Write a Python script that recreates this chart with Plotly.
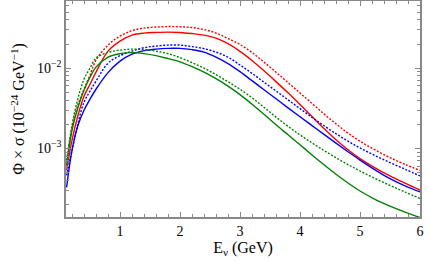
import plotly.graph_objects as go

energy = [0.11, 0.2, 0.3, 0.4, 0.5, 0.6, 0.8, 1.0, 1.2, 1.4, 1.6, 1.8, 2.0, 2.2, 2.4, 2.6,
          2.8, 3.0, 3.2, 3.4, 3.6, 3.8, 4.0, 4.2, 4.4, 4.6, 4.8, 5.0, 5.25, 5.5, 5.75, 6.0]

red_solid = [5.31e-4, 1.259e-3, 2.585e-3, 4.47e-3, 6.31e-3, 8.91e-3, 1.631e-2, 2.175e-2,
             2.585e-2, 2.738e-2, 2.79e-2, 2.818e-2, 2.79e-2, 2.70e-2, 2.585e-2, 2.371e-2,
             2.018e-2, 1.622e-2, 1.245e-2, 9.27e-3, 6.79e-3, 4.92e-3, 3.52e-3, 2.495e-3,
             1.766e-3, 1.279e-3, 9.59e-4, 7.45e-4, 5.71e-4, 4.54e-4, 3.69e-4, 3.02e-4]

red_dotted = [6.13e-4, 1.778e-3, 3.55e-3, 5.46e-3, 8.18e-3, 1.259e-2, 1.939e-2, 2.512e-2,
              2.94e-2, 3.162e-2, 3.255e-2, 3.30e-2, 3.28e-2, 3.21e-2, 3.03e-2, 2.74e-2,
              2.34e-2, 1.97e-2, 1.567e-2, 1.189e-2, 8.91e-3, 6.61e-3, 4.90e-3, 3.63e-3,
              2.69e-3, 2.018e-3, 1.549e-3, 1.230e-3, 9.55e-4, 7.67e-4, 6.31e-4, 5.31e-4]

blue_solid = [3.26e-4, 9.44e-4, 1.939e-3, 2.985e-3, 4.10e-3, 5.46e-3, 8.79e-3, 1.223e-2,
              1.496e-2, 1.655e-2, 1.728e-2, 1.763e-2, 1.763e-2, 1.70e-2, 1.585e-2, 1.372e-2,
              1.138e-2, 9.04e-3, 6.98e-3, 5.38e-3, 4.15e-3, 3.20e-3, 2.477e-3, 1.923e-3,
              1.493e-3, 1.161e-3, 9.08e-4, 7.14e-4, 5.40e-4, 4.19e-4, 3.40e-4, 2.858e-4]

blue_dotted = [4.60e-4, 9.44e-4, 2.05e-3, 3.76e-3, 5.16e-3, 6.88e-3, 1.155e-2, 1.432e-2,
               1.631e-2, 1.80e-2, 1.884e-2, 1.939e-2, 1.939e-2, 1.856e-2, 1.753e-2, 1.585e-2,
               1.372e-2, 1.096e-2, 8.61e-3, 6.68e-3, 5.19e-3, 4.03e-3, 3.126e-3, 2.438e-3,
               1.914e-3, 1.521e-3, 1.230e-3, 1.012e-3, 8.13e-4, 6.65e-4, 5.50e-4, 4.53e-4]

green_solid = [6.13e-4, 1.679e-3, 3.25e-3, 5.31e-3, 7.72e-3, 1.029e-2, 1.372e-2, 1.518e-2,
               1.563e-2, 1.518e-2, 1.432e-2, 1.315e-2, 1.199e-2, 1.044e-2, 8.91e-3, 7.39e-3,
               5.96e-3, 4.67e-3, 3.55e-3, 2.66e-3, 1.967e-3, 1.475e-3, 1.107e-3, 8.28e-4,
               6.24e-4, 4.76e-4, 3.70e-4, 2.94e-4, 2.317e-4, 1.905e-4, 1.603e-4, 1.374e-4]

green_dotted = [7.08e-4, 1.939e-3, 4.22e-3, 7.29e-3, 1.0e-2, 1.334e-2, 1.57e-2, 1.679e-2,
                1.728e-2, 1.70e-2, 1.631e-2, 1.518e-2, 1.352e-2, 1.172e-2, 1.0e-2, 8.29e-3,
                6.78e-3, 5.46e-3, 4.28e-3, 3.25e-3, 2.455e-3, 1.884e-3, 1.472e-3, 1.169e-3,
                9.40e-4, 7.64e-4, 6.28e-4, 5.22e-4, 4.22e-4, 3.45e-4, 2.851e-4, 2.371e-4]

x_tick_vals = [1, 2, 3, 4, 5, 6]
x_tick_text = ["1", "2", "3", "4", "5", "6"]
y_tick_vals = [1e-3, 1e-2]
y_tick_text = ["10<sup>−3</sup>", "10<sup>−2</sup>"]
y_minor_vals = [2e-4, 3e-4, 4e-4, 5e-4, 6e-4, 7e-4, 8e-4, 9e-4,
                2e-3, 3e-3, 4e-3, 5e-3, 6e-3, 7e-3, 8e-3, 9e-3,
                2e-2, 3e-2, 4e-2, 5e-2, 6e-2]

series = [
    (red_solid, "#ff0000", "solid"),
    (red_dotted, "#ff0000", "2px,1.6px"),
    (blue_solid, "#0000ff", "solid"),
    (blue_dotted, "#0000ff", "2px,1.6px"),
    (green_solid, "#008000", "solid"),
    (green_dotted, "#008000", "2px,1.6px"),
]

fig = go.Figure()
for vals, col, dash in series:
    fig.add_trace(go.Scatter(x=energy, y=vals, mode="lines", line_shape="spline",
                             line=dict(color=col, width=1.4, dash=dash),
                             showlegend=False, hoverinfo="skip"))

font = "Liberation Serif"
axis_col = "#888888"
fig.update_layout(
    width=429, height=263,
    margin=dict(l=66, r=9, t=1, b=46, autoexpand=False),
    paper_bgcolor="white", plot_bgcolor="white",
    font=dict(family=font, size=14, color="black"),
    xaxis=dict(
        range=[0.1, 6.0], tickvals=x_tick_vals, ticktext=x_tick_text,
        ticks="inside", ticklen=5, tickwidth=1, tickcolor=axis_col,
        showline=True, linecolor=axis_col, linewidth=1.5, mirror="allticks",
        showgrid=False, zeroline=False, automargin=False,
        minor=dict(dtick=0.2, tick0=0, ticks="inside", ticklen=3, tickcolor=axis_col, showgrid=False),
        title=dict(text="E<sub>ν</sub> (GeV)", font=dict(size=16, family=font), standoff=4),
        tickfont=dict(size=14, family=font),
    ),
    yaxis=dict(
        type="log", range=[-3.856, -1.1625],
        tickvals=y_tick_vals, ticktext=y_tick_text,
        ticks="inside", ticklen=5, tickwidth=1, tickcolor=axis_col,
        showline=True, linecolor=axis_col, linewidth=1.5, mirror="allticks",
        showgrid=False, zeroline=False, automargin=False,
        minor=dict(tickmode="array", tickvals=y_minor_vals, ticks="inside", ticklen=3,
                   tickcolor=axis_col, showgrid=False),
        title=dict(text="Φ × σ (10<sup>−24</sup> GeV<sup>−1</sup>)", font=dict(size=16, family=font), standoff=8),
        tickfont=dict(size=14, family=font),
    ),
)

fig.write_html("out.html", config={"displayModeBar": False},
               post_script="document.body.style.margin='0';document.body.style.padding='0';")
